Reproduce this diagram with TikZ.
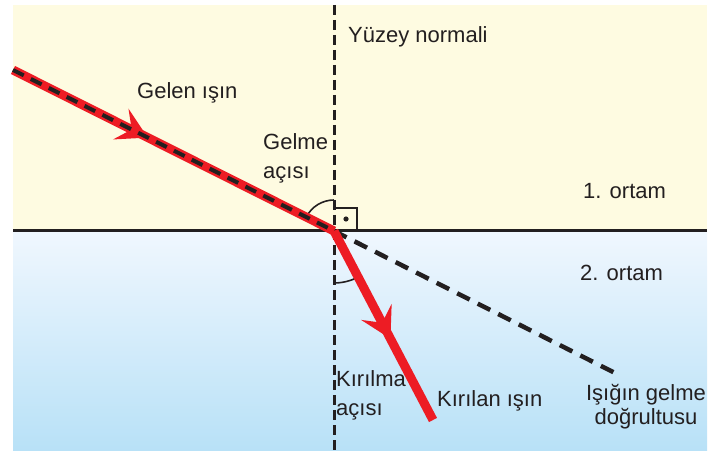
\documentclass[tikz,border=0pt]{standalone}
\usepackage{fontspec}
\setmainfont{Liberation Sans}
\usetikzlibrary{arrows.meta,decorations.markings}
\definecolor{cream}{HTML}{FEFBE1}
\definecolor{waterTop}{HTML}{F0F7FE}
\definecolor{waterBot}{HTML}{B8E1F7}
\definecolor{rayred}{HTML}{ED1C24}
\definecolor{ink}{HTML}{231F20}
\tikzset{
  lbl/.style={font=\fontsize{22}{29}\selectfont, text=ink, inner sep=0pt},
  redray/.style={draw=rayred, line width=9pt},
  blackdash/.style={draw=ink, line width=4pt, dash pattern=on 12pt off 8pt},
  normaldash/.style={draw=ink, line width=3pt, dash pattern=on 10pt off 5pt},
  contdash/.style={draw=ink, line width=4.5pt, dash pattern=on 14pt off 9pt},
  anglearc/.style={draw=ink, line width=1.6pt},
  midarrow/.style={postaction={decorate}, decoration={markings,
     mark=at position #1 with {\arrow{Stealth[length=30pt,width=34pt,inset=12pt]}}}}
}
\begin{document}
\begin{tikzpicture}[x=1pt,y=1pt]
\useasboundingbox (0,0) rectangle (727,450);
% media
\fill[cream] (13,219) rectangle (707,445);
\shade[top color=waterTop, bottom color=waterBot] (13,0) rectangle (707,219);
% coordinates
\coordinate (O) at (334,219);
\coordinate (A) at (13,380);
\coordinate (B) at (433,30);
\coordinate (C) at (615,77);
\coordinate (NT) at (334,445);
\coordinate (NB) at (334,0);
\coordinate (IL) at (13,219);
\coordinate (IR) at (707,219);
% interface
\draw[ink, line width=3pt] (IL) -- (IR);
% normal
\draw[normaldash] (NT) -- (NB);
% continuation
\draw[contdash] (O) -- (C);
% angle marks
\draw[anglearc] (O) ++(90:31) arc[start angle=90, end angle=153.4, radius=31];
\draw[anglearc] (O) ++(270:52) arc[start angle=270, end angle=297.6, radius=52];
\draw[ink, line width=2pt] (334,242) -- (357,242) -- (357,219);
\fill[ink] (346,231) circle (2.6);
% incident ray
\draw[redray, midarrow=0.42, rayred] (A) -- (O);
\draw[blackdash] (A) -- (O);
% refracted ray
\draw[redray, midarrow=0.57, rayred] (O) -- (B);
% labels
\node[lbl, anchor=west] (yn) at (348,413) {Yüzey normali};
\node[lbl, anchor=west] (gi) at (137,357) {Gelen ışın};
\node[lbl, anchor=west, align=left] (ga) at (263,292) {Gelme\\açısı};
\node[lbl, anchor=west] (o1) at (583,259) {1. ortam};
\node[lbl, anchor=west] (o2) at (580,177) {2. ortam};
\node[lbl, anchor=west, align=left] (ka) at (336,55) {Kırılma\\açısı};
\node[lbl, anchor=west] (ki) at (437,49) {Kırılan ışın};
\node[lbl, align=center, font=\fontsize{22}{24}\selectfont] (ig) at (646,43) {Işığın gelme\\doğrultusu};
\end{tikzpicture}
\end{document}
